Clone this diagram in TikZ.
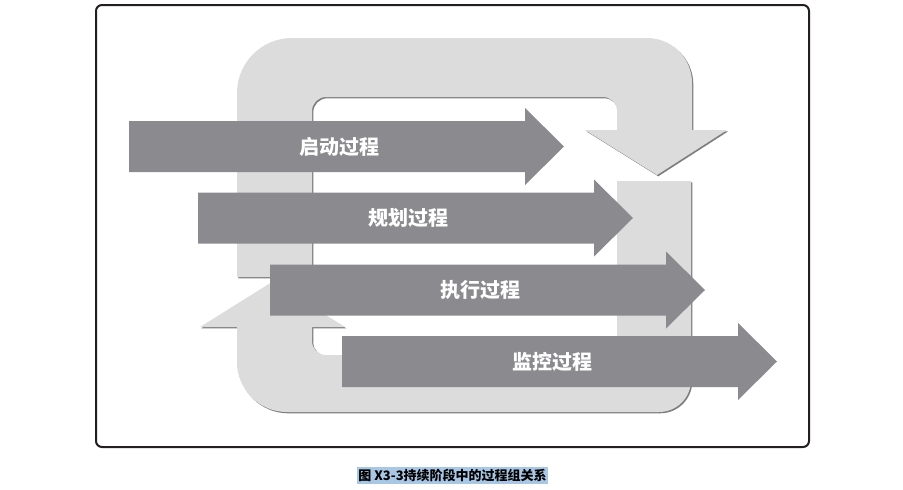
\documentclass[tikz,border=0pt]{standalone}
\usepackage{fontspec}
\newfontfamily\cjk{Noto Sans CJK SC}

\definecolor{framecol}{HTML}{231F20}
\definecolor{loopcol}{HTML}{DCDCDC}
\definecolor{loopshadow}{HTML}{7E7E7E}
\definecolor{procfill}{HTML}{8A8A8F}
\definecolor{capfill}{HTML}{A7C7E4}

% Upper part of the cycle: left leg, top bar, right leg ending in a down arrowhead
\newcommand\cycleupper[1]{%
  \fill[#1] (237,277) -- (237,93) arc[start angle=180,end angle=270,radius=55]
    -- (647,38) arc[start angle=270,end angle=360,radius=45]
    -- (692,130) -- (727,130) -- (657,175) -- (585,130) -- (617,130)
    -- (617,111) arc[start angle=0,end angle=-90,radius=14]
    -- (326,97) arc[start angle=270,end angle=180,radius=14]
    -- (312,277) -- cycle;}

% Lower part of the cycle: right leg, bottom bar, left leg ending in an up arrowhead
\newcommand\cyclelower[1]{%
  \fill[#1] (617,181) -- (691,181) -- (691,380) arc[start angle=0,end angle=90,radius=32]
    -- (287,412) arc[start angle=90,end angle=180,radius=50]
    -- (237,327) -- (200,327) -- (272,282) -- (345,327) -- (312,327)
    -- (312,341) arc[start angle=180,end angle=90,radius=14]
    -- (603,355) arc[start angle=90,end angle=0,radius=14]
    -- cycle;}

% Process-group arrow: #1 left x, #2 centre y, #3 node name, #4 label
\newcommand\procarrow[4]{%
  \fill[procshape] (#1,#2-25.5) -- (#1+396,#2-25.5) -- (#1+396,#2-38.5)
    -- (#1+435,#2) -- (#1+396,#2+38.5) -- (#1+396,#2+25.5) -- (#1,#2+25.5) -- cycle;
  \node[proclabel] (#3) at (#1+210,#2) {#4};}

\begin{document}
\begin{tikzpicture}[x=1pt,y=-1pt,
  looppart/.style={fill=loopcol},
  procshape/.style={fill=procfill},
  proclabel/.style={text=white, inner sep=0pt,
    font=\cjk\bfseries\fontsize{20}{20}\selectfont},
  captionbox/.style={fill=capfill, text=black, inner xsep=1.5pt, inner ysep=2.5pt,
    font=\cjk\bfseries\fontsize{13}{13}\selectfont}]

\useasboundingbox (0,0) rectangle (903,490);

% outer frame
\draw[framecol, line width=2pt, rounded corners=6pt] (96,5) rectangle (809,447);

% cycle band with its drop shadow
\begin{scope}[shift={(1.3,1.3)}]
  \cycleupper{loopshadow}
  \cyclelower{loopshadow}
\end{scope}
\cycleupper{looppart}
\cyclelower{looppart}

% process groups
\procarrow{129}{146.5}{start}{启动过程}
\procarrow{198}{218}{plan}{规划过程}
\procarrow{270}{290}{exec}{执行过程}
\procarrow{342}{361.5}{monitor}{监控过程}

% caption
\node[captionbox] (caption) at (452.5,475.5) {图 X3-3持续阶段中的过程组关系};
\end{tikzpicture}
\end{document}
